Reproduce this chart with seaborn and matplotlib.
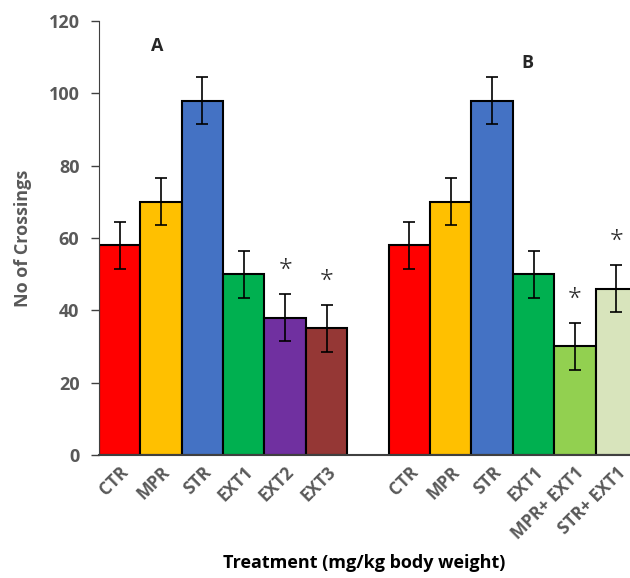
import numpy as np
import pandas as pd
import matplotlib
matplotlib.use("Agg")
import matplotlib.pyplot as plt
import seaborn as sns

# data
labels_a = ["CTR", "MPR", "STR", "EXT1", "EXT2", "EXT3"]
values_a = [58, 70, 98, 50, 38, 35]
errors_a = [6.5, 6.5, 6.5, 6.5, 6.5, 6.5]
stars_a = [False, False, False, False, True, True]

labels_b = ["CTR", "MPR", "STR", "EXT1", "MPR+ EXT1", "STR+ EXT1"]
values_b = [58, 70, 98, 50, 30, 46]
errors_b = [6.5, 6.5, 6.5, 6.5, 6.5, 6.5]
stars_b = [False, False, False, False, True, True]

colors_a = ["#FF0000", "#FFC000", "#4472C4", "#00B050", "#7030A0", "#953735"]
colors_b = ["#FF0000", "#FFC000", "#4472C4", "#00B050", "#92D050", "#D8E4BC"]

keys = ["A_" + l for l in labels_a] + ["gap"] + ["B_" + l for l in labels_b]
df = pd.DataFrame({
    "key": ["A_" + l for l in labels_a] + ["B_" + l for l in labels_b],
    "value": values_a + values_b,
    "err": errors_a + errors_b,
    "star": stars_a + stars_b,
})
palette = dict(zip(df["key"], colors_a + colors_b))

sns.set_style("white")
plt.rcParams["font.family"] = ["Open Sans", "DejaVu Sans"]

fig = plt.figure(figsize=(6.3, 5.78), dpi=100)
ax = fig.add_axes([0.157, 0.2128, 0.843, 0.751])

sns.barplot(data=df, x="key", y="value", hue="key", order=keys, palette=palette,
            width=1.0, saturation=1, edgecolor="black", linewidth=1.5,
            legend=False, ax=ax)

pos = [keys.index(k) for k in df["key"]]
ax.errorbar(pos, df["value"], yerr=df["err"], fmt="none", ecolor="black",
            elinewidth=1.2, capsize=4.5, capthick=1.2)
for p, v, e, s in zip(pos, df["value"], df["err"], df["star"]):
    if s:
        ax.text(p, v + e + 3, "*", ha="center", va="bottom", fontsize=18,
                color="#262626", fontweight="light")

ax.text(0.9, 113, "A", ha="center", va="center", fontsize=13, fontweight="bold")
ax.text(9.85, 108.5, "B", ha="center", va="center", fontsize=13, fontweight="bold")

ax.set_xlim(-0.5, 12.33)
ax.set_ylim(0, 120)
ax.set_yticks(range(0, 121, 20))
ax.tick_params(axis="y", direction="out", length=6, width=1, color="#404040",
               labelsize=13, labelcolor="#595959", left=True, pad=8)
ax.tick_params(axis="x", length=0, labelsize=12.5, labelcolor="#595959", pad=6)
for t in ax.get_yticklabels():
    t.set_fontweight("bold")

ax.set_xticks(range(len(keys)))
ax.set_xticklabels(labels_a + [""] + labels_b, rotation=45, ha="right",
                   rotation_mode="anchor", fontweight="bold")

ax.set_ylabel("No of Crossings", fontsize=13, fontweight="bold", color="#595959",
              labelpad=12)
ax.set_xlabel("Treatment (mg/kg body weight)", fontsize=13, fontweight="bold",
              color="black", labelpad=8)

for side in ["top", "right"]:
    ax.spines[side].set_visible(False)
ax.spines["left"].set_color("#404040")
ax.spines["bottom"].set_color("#404040")
ax.spines["bottom"].set_linewidth(1.5)

fig.savefig("out.png", dpi=100)
